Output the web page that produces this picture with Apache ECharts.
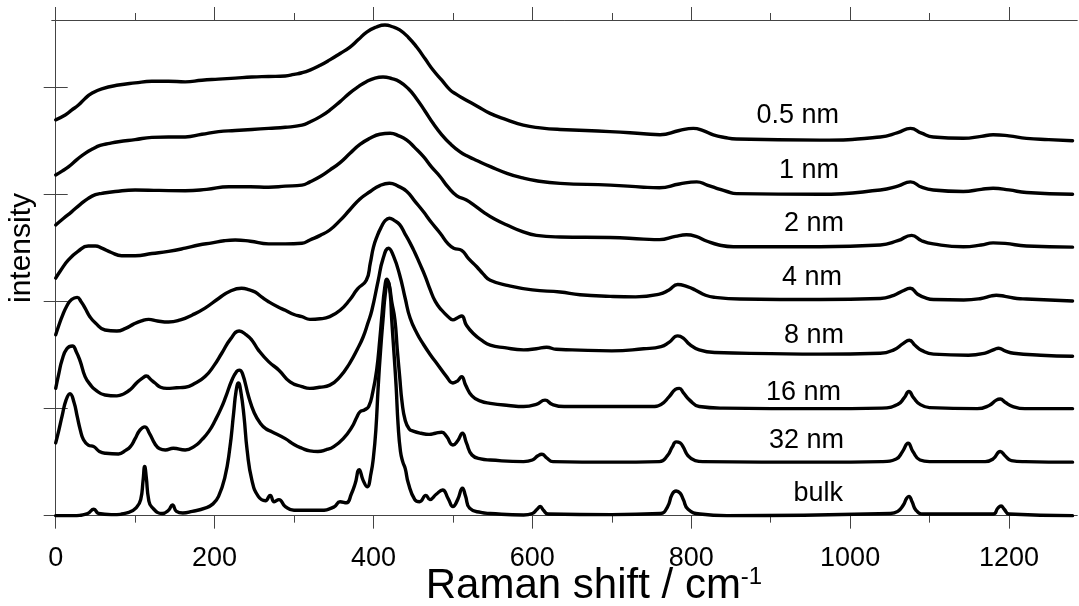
<!DOCTYPE html>
<html>
<head>
<meta charset="utf-8">
<title>Raman spectra</title>
<script src="https://cdn.jsdelivr.net/npm/echarts@6/dist/echarts.min.js"></script>
<style>
  html, body { margin: 0; padding: 0; background: #fff; }
  #chart { width: 1079px; height: 606px; }
</style>
</head>
<body>
<div id="chart"></div>
<script>
// spectra, already shifted by their stacking offset
const bulk = [[0,0.0],[20,0.0],[40,0.02],[48,0.06],[54,0.02],[70,0.01],[92,0.03],[102,0.08],[107,0.15],[110,0.33],[112,0.46],[114,0.36],[117,0.15],[121,0.08],[134,0.02],[142,0.05],[147,0.10],[152,0.04],[160,0.025],[172,0.04],[188,0.07],[198,0.11],[205,0.18],[213,0.36],[219,0.62],[224,0.96],[227,1.16],[230,1.24],[233,1.16],[237,0.93],[241,0.61],[247,0.33],[255,0.18],[264,0.14],[270,0.19],[275,0.13],[281,0.15],[289,0.085],[300,0.05],[333,0.05],[350,0.08],[358,0.13],[366,0.12],[372,0.2],[377,0.30],[382,0.43],[387,0.33],[392,0.27],[397,0.4],[400,0.55],[403,0.8],[406,1.21],[409,1.55],[412,1.83],[415,2.08],[418,2.19],[421,2.08],[423,1.83],[426,1.5],[428.5,1.21],[431,0.85],[434,0.6],[437,0.5],[440,0.44],[444,0.30],[452,0.15],[458,0.13],[466,0.19],[471,0.15],[479,0.2],[487,0.24],[494,0.16],[500,0.085],[506,0.15],[512,0.256],[516,0.18],[521,0.07],[535,0.03],[547,0.02],[589,0.006],[600,0.02],[606,0.06],[610,0.085],[614,0.05],[620,0.015],[700,0.01],[761,0.02],[770,0.08],[776,0.2],[781,0.23],[786,0.21],[790,0.15],[796,0.06],[811,0.015],[845,0.0],[1050,0.02],[1060,0.04],[1067,0.10],[1071,0.16],[1074,0.18],[1078,0.13],[1083,0.05],[1092,0.015],[1180,0.015],[1186,0.07],[1190,0.09],[1194,0.06],[1200,0.015],[1280,0]];
const nm32 = [[0,0.68],[4,0.8],[8,0.93],[13,1.08],[18,1.14],[23,1.06],[27,0.93],[31,0.8],[35,0.71],[41,0.66],[48,0.645],[55,0.6],[63,0.583],[79,0.577],[88,0.61],[94,0.645],[100,0.72],[106,0.80],[112,0.83],[118,0.77],[125,0.67],[131,0.625],[138,0.614],[148,0.63],[163,0.614],[175,0.65],[184,0.71],[193,0.79],[201,0.894],[208,1.0],[214,1.11],[222,1.27],[228,1.35],[231,1.36],[235,1.33],[243,1.11],[250,0.96],[258,0.86],[265,0.81],[272,0.785],[289,0.72],[300,0.665],[310,0.63],[320,0.605],[330,0.6],[340,0.615],[350,0.645],[362,0.72],[373,0.83],[379,0.92],[383,0.97],[389,0.99],[394,1.02],[399,1.15],[404,1.36],[408,1.65],[411,1.9],[414,2.12],[417,2.21],[420,2.15],[423,2.0],[427,1.83],[430,1.55],[433,1.3],[436,1.06],[440,0.89],[445,0.81],[450,0.79],[460,0.77],[470,0.76],[478,0.77],[486,0.78],[492,0.74],[500,0.66],[506,0.7],[512,0.77],[517,0.68],[524,0.567],[535,0.53],[547,0.52],[589,0.505],[600,0.52],[607,0.56],[612,0.574],[618,0.54],[626,0.505],[700,0.5],[760,0.505],[770,0.56],[776,0.64],[781,0.69],[786,0.68],[790,0.64],[796,0.56],[805,0.515],[815,0.505],[962,0.5],[1040,0.505],[1058,0.53],[1066,0.6],[1073,0.677],[1079,0.6],[1088,0.52],[1100,0.505],[1170,0.505],[1180,0.53],[1189,0.6],[1195,0.56],[1203,0.515],[1220,0.505],[1280,0.5]];
const nm16 = [[0,1.19],[4,1.33],[8,1.455],[14,1.56],[21,1.586],[26,1.53],[31,1.44],[37,1.30],[44,1.22],[50,1.175],[62,1.128],[77,1.12],[86,1.14],[94,1.18],[103,1.25],[110,1.29],[114,1.306],[120,1.27],[125,1.24],[132,1.2],[140,1.19],[152,1.195],[163,1.20],[176,1.24],[188,1.30],[199,1.4],[209,1.518],[220,1.65],[231,1.726],[240,1.69],[247,1.64],[255,1.55],[268,1.44],[281,1.36],[295,1.25],[310,1.206],[320,1.19],[332,1.2],[345,1.22],[358,1.3],[370,1.424],[380,1.56],[387,1.67],[393,1.8],[398,1.92],[406,2.20],[412,2.4],[419,2.50],[425,2.43],[433,2.25],[440,2.03],[446,1.85],[455,1.70],[463,1.60],[472,1.5],[480,1.42],[492,1.30],[500,1.24],[506,1.26],[511,1.30],[516,1.22],[524,1.12],[535,1.07],[547,1.05],[570,1.03],[589,1.02],[605,1.04],[616,1.08],[625,1.04],[640,1.02],[700,1.02],[750,1.02],[762,1.04],[772,1.11],[780,1.18],[785,1.19],[790,1.15],[798,1.08],[810,1.02],[840,1.005],[962,1.0],[1040,1.005],[1060,1.04],[1068,1.1],[1074,1.16],[1080,1.1],[1088,1.04],[1100,1.01],[1160,1.0],[1175,1.03],[1184,1.08],[1189,1.09],[1195,1.06],[1205,1.02],[1220,1.0],[1280,1.0]];
const nm8 = [[0,1.69],[4,1.78],[8,1.86],[14,1.96],[20,2.02],[27,2.04],[32,2.0],[37,1.94],[43,1.86],[50,1.80],[62,1.735],[77,1.726],[88,1.75],[98,1.79],[108,1.82],[117,1.835],[128,1.82],[142,1.81],[157,1.83],[172,1.876],[188,1.94],[205,2.03],[220,2.1],[234,2.125],[244,2.11],[251,2.09],[260,2.04],[268,2.0],[280,1.95],[289,1.92],[300,1.88],[310,1.86],[320,1.835],[333,1.84],[345,1.86],[358,1.92],[370,2.016],[380,2.12],[391,2.20],[396,2.36],[400,2.51],[405,2.62],[410,2.70],[415,2.76],[420,2.78],[426,2.76],[433,2.72],[440,2.63],[446,2.55],[452,2.46],[458,2.36],[465,2.24],[471,2.12],[478,2.0],[486,1.92],[494,1.86],[500,1.83],[506,1.85],[511,1.866],[517,1.78],[526,1.70],[536,1.64],[547,1.595],[565,1.57],[589,1.55],[605,1.56],[618,1.574],[630,1.555],[650,1.55],[700,1.54],[740,1.56],[762,1.58],[772,1.62],[783,1.68],[790,1.66],[798,1.6],[810,1.55],[830,1.525],[900,1.515],[962,1.51],[1038,1.518],[1055,1.55],[1067,1.61],[1074.5,1.64],[1082,1.59],[1090,1.545],[1105,1.51],[1149,1.50],[1170,1.52],[1182,1.555],[1187,1.565],[1195,1.54],[1206,1.518],[1240,1.5],[1280,1.49]];
const nm4 = [[0,2.22],[6,2.29],[16,2.39],[28,2.47],[41,2.52],[50,2.52],[58,2.50],[70,2.46],[83,2.43],[100,2.43],[121,2.45],[142,2.47],[163,2.50],[180,2.53],[197,2.55],[212,2.57],[226,2.577],[245,2.565],[268,2.54],[289,2.54],[310,2.546],[320,2.577],[333,2.62],[345,2.67],[358,2.76],[370,2.857],[383,2.96],[396,3.03],[408,3.085],[420,3.107],[431,3.08],[442,3.03],[452,2.94],[463,2.84],[473,2.74],[484,2.64],[494,2.54],[501,2.50],[511,2.48],[520,2.40],[530,2.327],[538,2.26],[547,2.20],[570,2.15],[600,2.11],[635,2.09],[660,2.065],[698,2.05],[730,2.045],[760,2.07],[772,2.11],[783,2.16],[795,2.14],[805,2.11],[818,2.06],[830,2.04],[861,2.025],[962,2.02],[1038,2.03],[1055,2.06],[1066,2.1],[1075.6,2.125],[1085,2.07],[1095,2.035],[1105,2.02],[1143,2.016],[1165,2.03],[1178,2.055],[1184,2.06],[1195,2.05],[1210,2.03],[1222,2.025],[1280,2.006]];
const nm2 = [[0,2.717],[10,2.78],[20,2.84],[31,2.91],[41,2.966],[50,3.0],[58,3.013],[75,3.03],[100,3.044],[130,3.04],[163,3.037],[190,3.05],[218,3.075],[245,3.075],[268,3.07],[289,3.08],[310,3.09],[320,3.12],[333,3.17],[345,3.23],[358,3.3],[370.5,3.387],[383,3.47],[395.6,3.527],[408,3.565],[421,3.574],[432,3.55],[442,3.51],[452,3.44],[463,3.355],[473,3.26],[484,3.168],[494,3.07],[505,2.99],[517,2.95],[527,2.9],[538,2.84],[553,2.77],[568,2.717],[586,2.66],[605,2.62],[635,2.605],[698,2.6],[740,2.585],[760,2.58],[780,2.61],[794,2.625],[806,2.61],[820,2.565],[835,2.53],[853,2.514],[962,2.514],[1038,2.53],[1060,2.57],[1077.5,2.62],[1090,2.57],[1104.7,2.54],[1142.6,2.514],[1165,2.53],[1180,2.55],[1195,2.545],[1222,2.52],[1280,2.51]];
const nm1 = [[0,3.184],[8,3.22],[16,3.26],[27,3.33],[37,3.387],[47,3.43],[56,3.46],[68,3.48],[79,3.495],[100,3.515],[121,3.536],[142,3.54],[163,3.54],[184,3.565],[205,3.59],[226,3.6],[247,3.61],[268,3.62],[289,3.63],[310,3.65],[320,3.68],[333,3.73],[345,3.79],[358,3.87],[370,3.95],[381,4.01],[391,4.056],[402,4.09],[412,4.10],[423,4.085],[433,4.056],[444,3.99],[454,3.90],[465,3.78],[475,3.667],[486,3.56],[496,3.48],[509,3.40],[520,3.355],[530,3.32],[548,3.26],[568,3.2],[586,3.16],[605,3.13],[635,3.106],[698,3.09],[740,3.07],[760,3.065],[785,3.1],[807,3.12],[820,3.09],[832,3.06],[845,3.03],[857,3.01],[962,3.004],[1038,3.044],[1060,3.08],[1076,3.12],[1090,3.07],[1104.7,3.044],[1142.6,3.03],[1165,3.05],[1180,3.06],[1200,3.045],[1222,3.02],[1280,3.004]];
const nm05 = [[0,3.70],[12,3.745],[20,3.79],[29,3.84],[37,3.9],[46,3.95],[58,3.99],[79,4.025],[100,4.045],[121,4.06],[142,4.06],[163,4.055],[184,4.07],[205,4.08],[226,4.09],[247,4.10],[268,4.105],[289,4.11],[300,4.125],[310,4.14],[320,4.165],[333,4.21],[345,4.26],[358,4.32],[370.5,4.38],[381,4.45],[391.5,4.52],[403,4.565],[414.5,4.586],[424,4.57],[433,4.54],[444,4.47],[454.4,4.38],[465,4.27],[475,4.165],[486,4.07],[496.4,3.98],[504,3.94],[513,3.90],[530,3.83],[546.7,3.76],[568,3.7],[588.6,3.65],[610,3.625],[634.8,3.61],[697.7,3.59],[740,3.57],[760.7,3.56],[785,3.6],[802.6,3.62],[815,3.6],[827.8,3.56],[842,3.535],[857,3.52],[962,3.51],[1038,3.54],[1060,3.58],[1076,3.62],[1090,3.575],[1104.7,3.54],[1142.6,3.527],[1165,3.545],[1180,3.56],[1200,3.55],[1222,3.527],[1250,3.515],[1280,3.505]];

const spectra = [nm05, nm1, nm2, nm4, nm8, nm16, nm32, bulk];
const sampleNames = ['0.5 nm', '1 nm', '2 nm', '4 nm', '8 nm', '16 nm', '32 nm', 'bulk'];
const majorTicks = [0, 200, 400, 600, 800, 1000, 1200];
const minorTicks = [100, 300, 500, 700, 900, 1100];
const yTicks = [0, 1, 2, 3, 4];

// label anchors, right edge and vertical middle in pixels
const labelRight = [839, 839, 844, 842, 844, 841, 844, 843];
const labelMid = [116, 171, 224, 278, 336, 393, 441, 494];

const FONT = '"Liberation Sans", Arial, Helvetica, sans-serif';
const AXIS_COLOR = '#444';
const X_MIN = -4.66;
const X_MAX = 1285.6;

function xAxisDef(position, ticks, len, withLabels) {
  return {
    type: 'value',
    position: position,
    min: X_MIN,
    max: X_MAX,
    axisLine: { show: true, lineStyle: { color: AXIS_COLOR, width: 1 } },
    axisTick: { show: true, customValues: ticks, length: len, inside: false, lineStyle: { color: AXIS_COLOR, width: 1 } },
    axisLabel: withLabels
      ? { show: true, customValues: ticks, fontSize: 27, color: '#000', fontFamily: FONT, margin: 21,
          formatter: (v) => String(v) }
      : { show: false },
    splitLine: { show: false }
  };
}

function yAxisDef(position) {
  return {
    type: 'value',
    position: position,
    min: -0.078,
    max: 4.633,
    axisLine: { show: true, lineStyle: { color: AXIS_COLOR, width: 1 } },
    axisTick: { show: true, customValues: yTicks, length: 12, inside: false, lineStyle: { color: AXIS_COLOR, width: 1 } },
    axisLabel: { show: false },
    splitLine: { show: false }
  };
}

function initChart() {
  const myChart = echarts.init(document.getElementById('chart'), null, { renderer: 'canvas' });

  const series = spectra.map((data, i) => ({
    name: sampleNames[i],
    type: 'line',
    xAxisIndex: 0,
    yAxisIndex: 0,
    data: data,
    showSymbol: false,
    smooth: 0.5,
    lineStyle: { color: '#000', width: 3.4, join: 'round', cap: 'round' },
    z: 3
  }));

  const labels = sampleNames.map((name, i) => ({
    type: 'text',
    x: labelRight[i],
    y: labelMid[i],
    style: { text: name, fill: '#000', font: '27px ' + FONT, align: 'right', verticalAlign: 'middle' }
  }));

  // axis titles
  const titles = [
    {
      type: 'text',
      x: 594,
      y: 586,
      style: {
        text: 'Raman shift / cm{sup|-1}',
        fill: '#000',
        font: '42px ' + FONT,
        align: 'center',
        verticalAlign: 'middle',
        rich: {
          sup: { fontSize: 24, fontFamily: FONT, fill: '#000', verticalAlign: 'top', lineHeight: 24 }
        }
      }
    },
    {
      type: 'text',
      x: 22,
      y: 248,
      rotation: Math.PI / 2,
      style: { text: 'intensity', fill: '#000', font: '30px ' + FONT, align: 'center', verticalAlign: 'middle' }
    }
  ];

  const option = {
    animation: false,
    backgroundColor: '#fff',
    grid: { left: 52, right: 2, top: 20, bottom: 82, containLabel: false, outerBoundsMode: 'none' },
    xAxis: [
      xAxisDef('bottom', majorTicks, 13, true),
      xAxisDef('bottom', minorTicks, 7, false),
      xAxisDef('top', majorTicks, 13, false),
      xAxisDef('top', minorTicks, 7, false)
    ],
    yAxis: [yAxisDef('left'), yAxisDef('right')],
    graphic: labels.concat(titles),
    series: series
  };

  myChart.setOption(option, true);
}

initChart();
</script>
</body>
</html>
